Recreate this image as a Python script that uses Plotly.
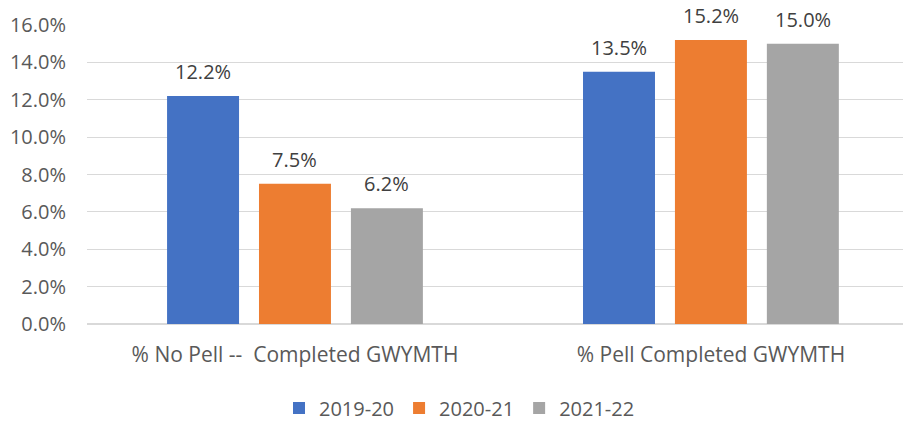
import plotly.graph_objects as go

categories = ["% No Pell --\u00a0 Completed GWYMTH", "% Pell Completed GWYMTH"]
series_names = ["2019-20", "2020-21", "2021-22"]
values_2019 = [0.122, 0.135]
values_2020 = [0.075, 0.152]
values_2021 = [0.062, 0.150]
colors = ["#4472C4", "#ED7D31", "#A5A5A5"]
tick_vals = [0, 0.02, 0.04, 0.06, 0.08, 0.10, 0.12, 0.14, 0.16]

FONT = "Open Sans, Liberation Sans, sans-serif"
BARGAP = 0.337
GROUPGAP = 0.217
# the page body adds an 8px offset, so the figure is 8px smaller
W, H = 903, 414

all_vals = [values_2019, values_2020, values_2021]
fig = go.Figure()
for name, vals, c in zip(series_names, all_vals, colors):
    fig.add_trace(go.Bar(
        x=categories, y=vals, name=name, marker_color=c, marker_line_width=0,
    ))

# data labels (placed above each grouped bar)
slot = (1 - BARGAP) / len(series_names)
annotations = []
for i, vals in enumerate(all_vals):
    for ci, v in enumerate(vals):
        annotations.append(dict(
            x=ci + (i - (len(series_names) - 1) / 2) * slot, y=v, xref="x", yref="y",
            text=f"{v*100:.1f}%", showarrow=False, yanchor="bottom", yshift=9,
            font=dict(family=FONT, size=20, color="#404040"),
        ))

fig.update_layout(
    width=W, height=H,
    margin=dict(l=79, r=0, t=17, b=98),
    plot_bgcolor="white", paper_bgcolor="white",
    barmode="group", bargap=BARGAP, bargroupgap=GROUPGAP,
    showlegend=True,
    legend=dict(orientation="h", x=0.5, xanchor="center", xref="container",
                y=1 - 400 / H, yanchor="middle", yref="container",
                font=dict(family=FONT, size=20, color="#595959"), itemwidth=30,
                traceorder="normal"),
    font=dict(family=FONT, size=20, color="#595959"),
    annotations=annotations,
)
fig.update_yaxes(range=[0, 0.16], tickvals=tick_vals, tickformat=".1%",
                 gridcolor="#D9D9D9", gridwidth=1, zeroline=True, zerolinecolor="#D9D9D9",
                 showline=False, ticks="", ticklabelstandoff=20,
                 tickfont=dict(family=FONT, size=20, color="#595959"))
fig.update_xaxes(range=[-0.5, 1.481], showline=False, ticks="", showgrid=False,
                 tickfont=dict(family=FONT, size=21, color="#595959"), ticklabelstandoff=16)

fig.write_html("out.html")
